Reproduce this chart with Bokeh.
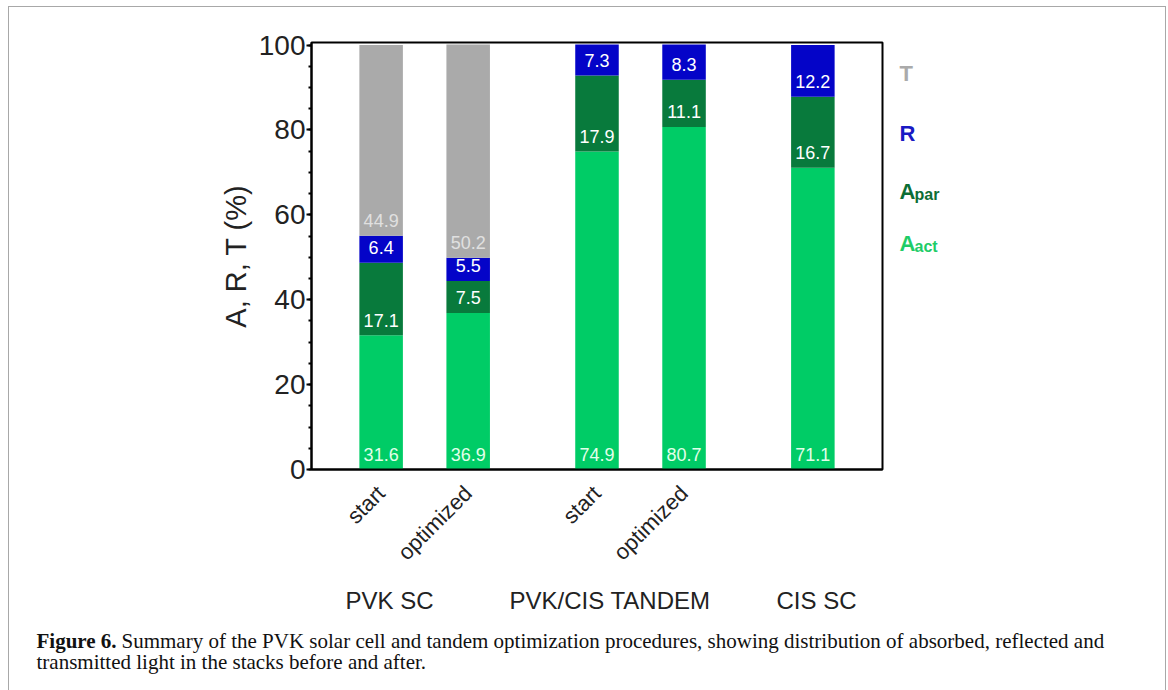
import math
from bokeh.plotting import figure
from bokeh.layouts import row, column
from bokeh.models import (FactorRange, Range1d, SingleIntervalTicker, ColumnDataSource)
from bokeh.core.properties import value
from bokeh.embed import file_html
from bokeh.resources import INLINE

# ---- data ----
groups = ["PVK SC", "PVK SC", "PVK/CIS TANDEM", "PVK/CIS TANDEM", "CIS SC"]
stages = ["start", "optimized", "start", "optimized", " "]
a_act = [31.6, 36.9, 74.9, 80.7, 71.1]
a_par = [17.1, 7.5, 17.9, 11.1, 16.7]
refl = [6.4, 5.5, 7.3, 8.3, 12.2]
trans = [44.9, 50.2, 0.0, 0.0, 0.0]
series_keys = ["a_act", "a_par", "r", "t"]
series_colors = ["#00cc66", "#087a3c", "#0404c8", "#aaaaaa"]
label_colors = ["#e2ffea", "#ffffff", "#ffffff", "#e0e0e0"]
group_names = ["PVK SC", "PVK/CIS TANDEM", "CIS SC"]
legend_main = ["T", "R", "A", "A"]
legend_sub = ["", "", "par", "act"]
legend_colors = ["#aaaaaa", "#1a1ac4", "#0b6e35", "#1fcc68"]
y_ticks_interval = 20
caption_bold = "Figure 6."
caption_line1 = "Summary of the PVK solar cell and tandem optimization procedures, showing distribution of absorbed, reflected and"
caption_line2 = "transmitted light in the stacks before and after."

# ---- layout geometry (canvas pixels) ----
OX, OY = 9, 7            # content origin inside the outer panel border
SPLIT_X, SPLIT_Y = 890, 580
FRAME_L, FRAME_R, FRAME_T, FRAME_B = 311, 882, 42, 469
RIGHT = 1165

TEXT_FONT = value("Liberation Sans")
SERIF = value("Liberation Serif")

# ---------------- main chart ----------------
factors = list(zip(groups, stages))
src = ColumnDataSource(dict(x=factors, a_act=a_act, a_par=a_par, r=refl, t=trans))

x_range = FactorRange(*factors, factor_padding=0.0, group_padding=0.48,
                      range_padding=0.3, range_padding_units="absolute")

main_w, main_h = SPLIT_X - OX, SPLIT_Y - OY
p = figure(width=main_w, height=main_h, x_range=x_range, y_range=Range1d(0, 100.6),
           output_backend="svg", toolbar_location=None,
           min_border_left=FRAME_L - OX, min_border_right=SPLIT_X - FRAME_R,
           min_border_top=FRAME_T - OY, min_border_bottom=SPLIT_Y - FRAME_B)

p.vbar_stack(series_keys, x="x", width=0.5, color=series_colors, source=src,
             line_color=None)

lx, ly, lt, lc = [], [], [], []
series_vals = [a_act, a_par, refl, trans]
for i, f in enumerate(factors):
    bottom = 0.0
    for s, vals in enumerate(series_vals):
        v = vals[i]
        if v > 0:
            lx.append(f)
            ly.append(bottom + 3.6)
            lt.append(f"{v:.1f}")
            lc.append(label_colors[s])
        bottom += v
lsrc = ColumnDataSource(dict(x=lx, y=ly, text=lt, color=lc))
p.text(x="x", y="y", text="text", text_color="color", source=lsrc,
       text_align="center", text_baseline="middle",
       text_font=TEXT_FONT, text_font_size="18px")

p.xgrid.visible = False
p.ygrid.visible = False
p.outline_line_color = "black"
p.outline_line_width = 2
p.outline_line_alpha = 1.0

ya = p.yaxis[0]
ya.ticker = SingleIntervalTicker(interval=y_ticks_interval, num_minor_ticks=4)
ya.axis_label = "A, R, T (%)"
ya.axis_label_text_font = "Liberation Sans"
ya.axis_label_text_font_style = "normal"
ya.axis_label_text_font_size = "29px"
ya.axis_label_text_color = "#222222"
ya.axis_label_standoff = 4
ya.major_label_text_font = "Liberation Sans"
ya.major_label_text_font_size = "28px"
ya.major_label_text_color = "#222222"
ya.axis_line_width = 2
ya.axis_line_color = "black"
ya.major_tick_in = 0
ya.major_tick_out = 5
ya.major_tick_line_width = 2
ya.minor_tick_in = 0
ya.minor_tick_out = 3
ya.minor_tick_line_width = 2
ya.major_label_standoff = 1

xa = p.xaxis[0]
xa.axis_line_width = 2
xa.axis_line_color = "black"
xa.major_tick_line_color = None
xa.minor_tick_line_color = None
xa.major_label_orientation = math.pi / 4
xa.major_label_text_font = "Liberation Sans"
xa.major_label_text_font_size = "22px"
xa.major_label_text_color = "#222222"
xa.major_label_standoff = 14
xa.group_text_color = None
xa.separator_line_color = None

# ---------------- legend panel (right) ----------------
leg_w, leg_h = RIGHT - SPLIT_X, SPLIT_Y - OY
lg = figure(width=leg_w, height=leg_h, x_range=Range1d(SPLIT_X, RIGHT),
            y_range=Range1d(FRAME_B, FRAME_T), output_backend="svg",
            toolbar_location=None,
            min_border_left=0, min_border_right=0,
            min_border_top=FRAME_T - OY, min_border_bottom=SPLIT_Y - FRAME_B,
            outline_line_color=None)
lg.axis.visible = False
lg.grid.visible = False
leg_x = [899] * 4
leg_base = [73, 133, 191, 243]
lg.text(x=leg_x, y=leg_base, text=legend_main, text_color=legend_colors,
        text_font=TEXT_FONT, text_font_style="bold", text_font_size="22px",
        text_baseline="alphabetic")
sub_idx = [i for i, s in enumerate(legend_sub) if s]
lg.text(x=[914] * len(sub_idx), y=[leg_base[i] + 3 for i in sub_idx],
        text=[legend_sub[i] for i in sub_idx],
        text_color=[legend_colors[i] for i in sub_idx],
        text_font=TEXT_FONT, text_font_style="bold", text_font_size="16px",
        text_baseline="alphabetic")

# ---------------- bottom panel: group labels + caption ----------------
bot_w, bot_h = RIGHT - OX, 690 - SPLIT_Y
bt = figure(width=bot_w, height=bot_h, x_range=Range1d(OX, RIGHT),
            y_range=Range1d(690, SPLIT_Y), output_backend="svg", toolbar_location=None,
            min_border=0, outline_line_color=None)
bt.axis.visible = False
bt.grid.visible = False
bt.text(x=[345, 509, 776], y=[600] * 3, text=group_names, text_color="#222222",
        text_font=TEXT_FONT, text_font_size="24px", text_baseline="alphabetic")
bt.text(x=[36], y=[640], text=[caption_bold], text_color="#111111",
        text_font=SERIF, text_font_style="bold", text_font_size="21px",
        text_baseline="alphabetic")
bt.text(x=[121, 36], y=[640, 661], text=[caption_line1, caption_line2],
        text_color="#111111", text_font=SERIF, text_font_size="21px",
        text_baseline="alphabetic")

layout = column(row(p, lg), bt,
                styles={"margin-left": f"{OX - 1}px", "margin-top": f"{OY - 1}px",
                        "border-left": "1px solid #a8a8a8",
                        "border-top": "1px solid #a8a8a8",
                        "border-right": "1px solid #a8a8a8"})

open("out.html", "w").write(file_html(layout, INLINE))
